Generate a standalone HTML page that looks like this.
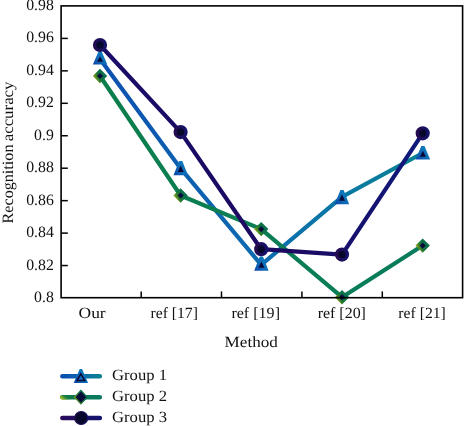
<!DOCTYPE html>
<html>
<head>
<meta charset="utf-8">
<style>
html,body{margin:0;padding:0;background:#fff;}
body{width:464px;height:426px;overflow:hidden;}
svg{display:block;}
text{font-family:"Liberation Serif",serif;fill:#111;text-rendering:geometricPrecision;}
svg{will-change:transform;}
</style>
</head>
<body>
<svg width="464" height="426" viewBox="0 0 464 426">
<defs>
<linearGradient id="g1" x1="0" y1="0" x2="1" y2="0">
<stop offset="0" stop-color="#0c50b0"/><stop offset="0.5" stop-color="#0e6cb0"/><stop offset="0.75" stop-color="#0a78a4"/><stop offset="1" stop-color="#0a8292"/>
</linearGradient>
<linearGradient id="g1m" x1="0" y1="1" x2="1" y2="0.2">
<stop offset="0" stop-color="#0a44ac"/><stop offset="0.45" stop-color="#0e68b6"/><stop offset="1" stop-color="#0c80be"/>
</linearGradient>
<linearGradient id="g2" x1="0" y1="0" x2="1" y2="0">
<stop offset="0" stop-color="#0c7e4c"/><stop offset="1" stop-color="#087c5c"/>
</linearGradient>
<linearGradient id="g2m" x1="0" y1="0.75" x2="1" y2="0.25">
<stop offset="0" stop-color="#80a01c"/><stop offset="0.3" stop-color="#2a7a2c"/><stop offset="0.5" stop-color="#0f7240"/><stop offset="1" stop-color="#0a7052"/>
</linearGradient>
<linearGradient id="g3" x1="0" y1="0" x2="1" y2="0">
<stop offset="0" stop-color="#1a0c68"/><stop offset="0.6" stop-color="#1c0860"/><stop offset="1" stop-color="#0e1a7c"/>
</linearGradient>
<linearGradient id="g3m" x1="0" y1="0" x2="1" y2="0">
<stop offset="0" stop-color="#260a50"/><stop offset="1" stop-color="#13126a"/>
</linearGradient>
<linearGradient id="l1" gradientUnits="userSpaceOnUse" x1="60" y1="379" x2="102" y2="373.5">
<stop offset="0" stop-color="#0a48ae"/><stop offset="0.5" stop-color="#0e68b0"/><stop offset="1" stop-color="#0a848c"/>
</linearGradient>
<linearGradient id="l2" gradientUnits="userSpaceOnUse" x1="60" y1="397" x2="102" y2="397">
<stop offset="0" stop-color="#107a44"/><stop offset="1" stop-color="#087a62"/>
</linearGradient>
<linearGradient id="l2y" gradientUnits="userSpaceOnUse" x1="61" y1="400.5" x2="65.5" y2="394.5">
<stop offset="0" stop-color="#d8d81c"/><stop offset="0.35" stop-color="#a0b820" stop-opacity="0.9"/><stop offset="1" stop-color="#107a44" stop-opacity="0"/>
</linearGradient>
<linearGradient id="l3" gradientUnits="userSpaceOnUse" x1="60" y1="418" x2="102" y2="418">
<stop offset="0" stop-color="#2a0a5a"/><stop offset="1" stop-color="#12146e"/>
</linearGradient>
</defs>
<rect width="464" height="426" fill="#fff"/>
<g stroke="#000" stroke-width="1.5">
<line x1="61" x2="67.8" y1="38.4" y2="38.4"/>
<line x1="61" x2="67.8" y1="70.85" y2="70.85"/>
<line x1="61" x2="67.8" y1="103.3" y2="103.3"/>
<line x1="61" x2="67.8" y1="135.75" y2="135.75"/>
<line x1="61" x2="67.8" y1="168.2" y2="168.2"/>
<line x1="61" x2="67.8" y1="200.65" y2="200.65"/>
<line x1="61" x2="67.8" y1="233.1" y2="233.1"/>
<line x1="61" x2="67.8" y1="265.55" y2="265.55"/>
<line y1="291.4" y2="297.7" x1="141.2" x2="141.2"/>
<line y1="291.4" y2="297.7" x1="221.5" x2="221.5"/>
<line y1="291.4" y2="297.7" x1="301.9" x2="301.9"/>
<line y1="291.4" y2="297.7" x1="382.3" x2="382.3"/>
</g>
<g font-size="15.8" text-anchor="end">
<text x="53.8" y="9.95">0.98</text>
<text x="53.8" y="42.4">0.96</text>
<text x="53.8" y="74.85">0.94</text>
<text x="53.8" y="107.3">0.92</text>
<text x="53.8" y="139.75">0.9</text>
<text x="53.8" y="172.2">0.88</text>
<text x="53.8" y="204.65">0.86</text>
<text x="53.8" y="237.1">0.84</text>
<text x="53.8" y="269.55">0.82</text>
<text x="53.8" y="302.0">0.8</text>
</g>
<g font-size="15.5" text-anchor="middle">
<text x="92.1" y="317.8" textLength="27.2" lengthAdjust="spacingAndGlyphs">Our</text>
<text x="174.2" y="317.8" textLength="47.3" lengthAdjust="spacingAndGlyphs">ref [17]</text>
<text x="255.7" y="317.8" textLength="48.6" lengthAdjust="spacingAndGlyphs">ref [19]</text>
<text x="341.8" y="317.8" textLength="48.3" lengthAdjust="spacingAndGlyphs">ref [20]</text>
<text x="422.1" y="317.8" textLength="47.5" lengthAdjust="spacingAndGlyphs">ref [21]</text>
<text x="251.2" y="346.5" textLength="53.2" lengthAdjust="spacingAndGlyphs">Method</text>
</g>
<text font-size="15.8" transform="translate(13,223.5) rotate(-90)" textLength="79" lengthAdjust="spacingAndGlyphs">Recognition</text>
<text font-size="15.8" transform="translate(13,141.3) rotate(-90)" textLength="59.8" lengthAdjust="spacingAndGlyphs">accuracy</text>
<g fill="none" stroke-width="4.2" stroke-linejoin="round" stroke-linecap="round">
<polyline stroke="url(#g1)" points="100.0,58.9 180.6,168.4 261.2,264.8 342,196.9 422.7,153.0"/>
<polyline stroke="url(#g2)" points="100.0,76.0 180.6,195.5 261.2,229.1 342,297.2 422.7,245.6"/>
<polyline stroke="url(#g3)" points="100.0,45.0 180.6,132.1 261.2,249.2 342,254.6 422.7,133.3"/>
</g>
<g>
<path fill="url(#g1m)" d="M98.50,51.5 L101.70,51.5 L107.30,64.6 L92.90,64.6 Z"/>
<path fill="#080838" d="M100.10,56.60 L103.10,61.7 L97.10,61.7 Z"/>
<path fill="url(#g1m)" d="M179.10,161.1 L182.30,161.1 L187.90,175.3 L173.50,175.3 Z"/>
<path fill="#080838" d="M180.70,165.60 L183.70,171.9 L177.70,171.9 Z"/>
<path fill="url(#g1m)" d="M259.80,256.5 L263.00,256.5 L268.60,270.7 L254.20,270.7 Z"/>
<path fill="#080838" d="M261.40,261.60 L264.40,267.7 L258.40,267.7 Z"/>
<path fill="url(#g1m)" d="M340.40,190.1 L343.60,190.1 L349.20,204.3 L334.80,204.3 Z"/>
<path fill="#080838" d="M342.00,194.60 L345.00,200.7 L339.00,200.7 Z"/>
<path fill="url(#g1m)" d="M421.30,146.1 L424.50,146.1 L430.10,159.6 L415.70,159.6 Z"/>
<path fill="#080838" d="M422.90,150.80 L425.90,156.7 L419.90,156.7 Z"/>
</g>
<g stroke="url(#g2m)" stroke-width="2.9" fill="#0a0c3a" stroke-linejoin="miter">
<path d="M100.0,70.85 L105.15,76.0 L100.0,81.15 L94.85,76.0 Z"/>
<path d="M180.6,190.35 L185.75,195.5 L180.6,200.65 L175.45,195.5 Z"/>
<path d="M261.2,223.95 L266.35,229.1 L261.2,234.25 L256.05,229.1 Z"/>
<path d="M342,292.05 L347.15,297.2 L342,302.35 L336.85,297.2 Z"/>
<path d="M422.7,240.45 L427.85,245.6 L422.7,250.75 L417.55,245.6 Z"/>
</g>
<g stroke="url(#g3m)" stroke-width="3.4" fill="#07072c">
<circle cx="100.0" cy="45.0" r="5.4"/>
<circle cx="180.6" cy="132.1" r="5.4"/>
<circle cx="261.2" cy="249.2" r="5.4"/>
<circle cx="342" cy="254.6" r="5.4"/>
<circle cx="422.7" cy="133.3" r="5.4"/>
</g>
<rect x="61.1" y="5.9" width="401.5" height="291.8" fill="none" stroke="#000" stroke-width="1.6"/>
<g fill="none" stroke-width="4.6" stroke-linecap="round">
<line x1="62.4" x2="99.8" y1="376.3" y2="376.31" stroke="url(#l1)"/>
<line x1="62.4" x2="99.8" y1="397.2" y2="397.21" stroke="url(#l2)"/>
<line x1="62.4" x2="76" y1="397.2" y2="397.21" stroke="url(#l2y)"/>
<line x1="62.4" x2="99.8" y1="418" y2="418.01" stroke="url(#l3)"/>
</g>
<path d="M79.7,369.0 L82.1,369.0 L88.1,382.9 L73.7,382.9 Z" fill="url(#g1m)"/>
<path d="M80.9,373.8 L84.8,380.5 L77.0,380.5 Z" fill="#146cbc" stroke="#080838" stroke-width="1.5" stroke-linejoin="miter"/>
<path d="M80.9,390.6 l6.2,6.6 l-6.2,6.6 l-6.2,-6.6 Z" fill="#0a0c3a" stroke="url(#g2m)" stroke-width="1.4"/>
<circle cx="81.2" cy="418" r="6.5" fill="#07072c" stroke="url(#g3m)" stroke-width="1.2"/>
<g font-size="15.6">
<text x="112" y="380.2" textLength="55" lengthAdjust="spacingAndGlyphs">Group 1</text>
<text x="112" y="401" textLength="55" lengthAdjust="spacingAndGlyphs">Group 2</text>
<text x="112" y="421.5" textLength="55" lengthAdjust="spacingAndGlyphs">Group 3</text>
</g>
</svg>
</body>
</html>
